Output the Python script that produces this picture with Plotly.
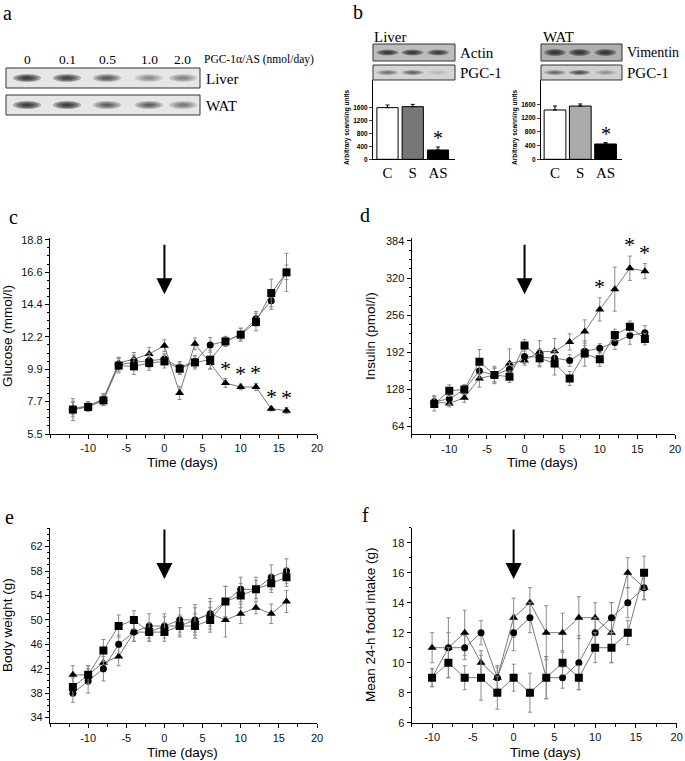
import plotly.graph_objects as go

W, H = 685, 761

# ---------------- data ----------------
days = [-12, -10, -8, -6, -4, -2, 0, 2, 4, 6, 8, 10, 12, 14, 16]
days_food = [-10, -8, -6, -4, -2, 0, 2, 4, 6, 8, 10, 12, 14, 16]
treatment_day = 0

# panel c: glucose (mmol/l)
glucose_ticktext = ["5.5", "7.7", "9.9", "12.2", "14.4", "16.6", "18.8"]
glucose_square = [7.17, 7.35, 7.8, 10.18, 10.13, 10.36, 10.47, 9.97, 10.4, 10.59, 11.84, 12.3, 13.17, 15.15, 16.57]
glucose_circle = [7.17, 7.4, 7.85, 10.25, 10.4, 10.54, 10.63, 10.06, 10.47, 11.6, 11.84, 12.34, 13.39, 14.63, 16.57]
glucose_triangle = [7.28, 7.4, 7.92, 10.36, 10.63, 10.98, 11.55, 8.31, 11.68, 10.36, 8.99, 8.72, 8.72, 7.23, 7.1]
glucose_square_err = [0.75, 0.3, 0.35, 0.5, 0.55, 0.5, 0.45, 0.4, 0.45, 0.65, 0.35, 0.45, 0.6, 0.95, 1.3]
glucose_circle_err = [0.5, 0.3, 0.4, 0.45, 0.5, 0.5, 0.4, 0.4, 0.4, 0.5, 0.3, 0.4, 0.5, 0.6, 0.5]
glucose_triangle_err = [0.45, 0.3, 0.35, 0.4, 0.45, 0.45, 0.4, 0.45, 0.4, 0.4, 0.3, 0.2, 0.25, 0.15, 0.2]
glucose_sig_days = [8, 10, 12, 14, 16]

# panel d: insulin (pmol/l)
insulin_square = [103, 126, 128, 176, 153, 150, 204, 182, 173, 147, 190, 180, 222, 236, 215]
insulin_circle = [107, 112, 128, 160, 153, 163, 185, 183, 182, 178, 194, 199, 209, 221, 226]
insulin_triangle = [107, 104, 114, 147, 153, 173, 178, 193, 194, 210, 228, 266, 301, 337, 332]
insulin_square_err = [12, 10, 8, 21, 12, 10, 10, 15, 20, 12, 22, 12, 10, 10, 10]
insulin_circle_err = [10, 10, 8, 12, 15, 12, 12, 14, 15, 10, 10, 8, 12, 15, 12]
insulin_triangle_err = [10, 6, 8, 15, 12, 25, 8, 19, 22, 14, 20, 20, 38, 21, 13]
insulin_sig_days = [10, 14, 16]

# panel e: body weight (g)
weight_square = [39, 41, 45, 49, 50, 48, 48, 49, 49, 50, 53, 54, 55, 56, 57]
weight_circle = [38, 40, 42, 46, 48, 49, 49, 50, 50, 51, 53, 55, 55, 57, 58]
weight_triangle = [41, 41, 43, 44, 48, 48, 49, 49, 50, 51, 50, 51, 52, 51, 53]
weight_square_err = [1.5, 1.5, 1.8, 1.8, 1.5, 1.5, 1.5, 1.8, 2.0, 2.0, 2.5, 2.0, 1.5, 1.5, 1.5]
weight_circle_err = [1.5, 2.0, 2.0, 1.5, 1.5, 2.0, 2.0, 2.0, 2.5, 2.5, 2.5, 2.0, 2.0, 2.0, 2.0]
weight_triangle_err = [1.5, 1.5, 1.5, 1.5, 1.5, 1.5, 1.5, 1.5, 2.0, 2.0, 2.8, 1.6, 1.0, 1.6, 1.8]

# panel f: mean 24-h food intake (g)
food_square = [9, 10, 9, 9, 8, 9, 8, 9, 10, 9, 11, 11, 12, 16]
food_circle = [9, 11, 11, 12, 9, 12, 13, 9, 9, 10, 12, 13, 14, 15]
food_triangle = [11, 11, 12, 10, 9, 13, 14, 12, 12, 13, 13, 12, 16, 15]
food_square_err = [0.6, 1.0, 0.8, 1.5, 1.1, 0.9, 1.3, 1.4, 0.8, 0.8, 1.0, 1.0, 0.8, 1.1]
food_circle_err = [0.6, 1.0, 0.8, 0.8, 0.7, 1.2, 1.0, 1.4, 0.7, 1.8, 1.0, 1.0, 1.0, 0.8]
food_triangle_err = [1.0, 2.0, 1.5, 0.8, 0.8, 1.3, 1.0, 1.8, 1.3, 1.4, 1.0, 2.0, 1.0, 0.8]

# panel a: western blot, PGC-1alpha/AS dose
dose_labels = ["0", "0.1", "0.5", "1.0", "2.0"]
blot_a_liver = [0.9, 0.85, 0.65, 0.35, 0.4]
blot_a_wat = [0.9, 0.9, 0.6, 0.6, 0.45]

# panel b: scanning units
groups = ["C", "S", "AS"]
liver_units = [1590, 1620, 287]
liver_units_err = [80, 70, 90]
wat_units = [1435, 1550, 446]
wat_units_err = [116, 60, 40]
blot_b_actin = [0.9, 0.9, 0.85]
blot_b_liver_pgc = [0.45, 0.55, 0.1]
blot_b_vimentin = [0.95, 0.95, 0.9]
blot_b_wat_pgc = [0.5, 0.7, 0.25]

# ---------------- helpers ----------------
SERIF = "Liberation Serif"
SANS = "Liberation Sans"


def fx(x):
    return x / W


def fy(y):
    return 1 - y / H


fig = go.Figure()
shapes = []
annotations = []


def text_px(x, y, s, size, family=SERIF, xanchor="left", yanchor="middle", angle=0, weight="normal"):
    annotations.append(dict(x=fx(x), y=fy(y), xref="paper", yref="paper", text=s, showarrow=False,
                            xanchor=xanchor, yanchor=yanchor, textangle=angle, borderpad=0,
                            font=dict(family=family, size=size, color="black", weight=weight)))


def blot_box(x0, y0, x1, y1, bg, centers, intens, bw, bh):
    shapes.append(dict(type="rect", xref="paper", yref="paper", x0=fx(x0), x1=fx(x1), y0=fy(y1), y1=fy(y0),
                       fillcolor=bg, line=dict(color="#333", width=1), layer="above"))
    cy = (y0 + y1) / 2
    for cx, v in zip(centers, intens):
        for k in range(4):
            s = 1 - 0.22 * k
            shapes.append(dict(type="circle", xref="paper", yref="paper",
                               x0=fx(cx - bw * s / 2), x1=fx(cx + bw * s / 2),
                               y0=fy(cy + bh * s / 2), y1=fy(cy - bh * s / 2),
                               fillcolor="rgba(25,25,25,%.3f)" % (v * 0.36), line=dict(width=0), layer="above"))


# ---------------- main line panels ----------------
LINE = dict(color="#6a6a6a", width=0.9)
ERR = dict(color="#8a8a8a", thickness=1, width=2)


def add_series(xs, ys, errs, symbol, size, xa, ya):
    fig.add_trace(go.Scatter(x=xs, y=ys, mode="lines+markers", xaxis=xa, yaxis=ya,
                             line=LINE, marker=dict(symbol=symbol, size=size, color="black"),
                             error_y=dict(type="data", array=errs, **ERR), showlegend=False,
                             hoverinfo="skip"))


panels = [
    ("x", "y", days, glucose_square, glucose_circle, glucose_triangle,
     glucose_square_err, glucose_circle_err, glucose_triangle_err),
    ("x2", "y2", days, insulin_square, insulin_circle, insulin_triangle,
     insulin_square_err, insulin_circle_err, insulin_triangle_err),
    ("x3", "y3", days, weight_square, weight_circle, weight_triangle,
     weight_square_err, weight_circle_err, weight_triangle_err),
    ("x4", "y4", days_food, food_square, food_circle, food_triangle,
     food_square_err, food_circle_err, food_triangle_err),
]
for xa, ya, xs, sq, ci, tr, esq, eci, etr in panels:
    add_series(xs, tr, etr, "triangle-up", 8, xa, ya)
    add_series(xs, ci, eci, "circle", 7, xa, ya)
    add_series(xs, sq, esq, "square", 8, xa, ya)

# significance asterisks
for d in glucose_sig_days:
    i = days.index(d)
    annotations.append(dict(x=d, y=glucose_triangle[i] + glucose_triangle_err[i], xref="x", yref="y",
                            text="*", showarrow=False, yanchor="bottom", yshift=-4,
                            font=dict(family=SERIF, size=22, color="black")))
for d in insulin_sig_days:
    i = days.index(d)
    annotations.append(dict(x=d, y=insulin_triangle[i] + insulin_triangle_err[i], xref="x2", yref="y2",
                            text="*", showarrow=False, yanchor="bottom", yshift=-3,
                            font=dict(family=SERIF, size=22, color="black")))

# treatment arrows
for xa, ya, tip in [("x", "y", 0.714), ("x2", "y2", 0.714), ("x3", "y3", 0.74), ("x4", "y4", 0.737)]:
    annotations.append(dict(x=treatment_day, y=tip, xref=xa, yref=ya + " domain", ax=0, ay=-51,
                            text="", showarrow=True, arrowhead=2, arrowsize=1.6, arrowwidth=2,
                            arrowcolor="black", standoff=0))

# ---------------- panel b bars ----------------
fig.add_trace(go.Bar(x=groups, y=liver_units, xaxis="x5", yaxis="y5", width=0.84,
                     marker=dict(color=["white", "#777777", "black"], line=dict(color="black", width=1)),
                     error_y=dict(type="data", array=liver_units_err, symmetric=False, arrayminus=[0, 0, 0],
                                  color="black", thickness=1, width=2),
                     showlegend=False, hoverinfo="skip"))
fig.add_trace(go.Bar(x=groups, y=wat_units, xaxis="x6", yaxis="y6", width=0.86,
                     marker=dict(color=["white", "#aaaaaa", "black"], line=dict(color="black", width=1)),
                     error_y=dict(type="data", array=wat_units_err, symmetric=False, arrayminus=[0, 0, 0],
                                  color="black", thickness=1, width=2),
                     showlegend=False, hoverinfo="skip"))
annotations.append(dict(x="AS", y=liver_units[2] + liver_units_err[2], xref="x5", yref="y5", text="*",
                        showarrow=False, yanchor="bottom", yshift=-4,
                        font=dict(family=SERIF, size=20, color="black")))
annotations.append(dict(x="AS", y=wat_units[2] + wat_units_err[2], xref="x6", yref="y6", text="*",
                        showarrow=False, yanchor="bottom", yshift=-4,
                        font=dict(family=SERIF, size=20, color="black")))

# ---------------- blots ----------------
lane_a = [27, 67, 107, 149, 183]
blot_box(6, 68, 200, 88, "#e6e6e6", lane_a, blot_a_liver, 28, 8)
blot_box(6, 95, 200, 115, "#e6e6e6", lane_a, blot_a_wat, 28, 8)
for cx, lab in zip(lane_a, dose_labels):
    text_px(cx, 59, lab, 13.5, xanchor="center")
text_px(203, 59, "PGC-1α/AS (nmol/day)", 11.5)
text_px(205, 79, "Liver", 15)
text_px(205, 106, "WAT", 15)

lane_bl = [387.5, 412.5, 438]
lane_bw = [555, 579.5, 605.5]
blot_box(373, 44, 455, 61, "#bdbdbd", lane_bl, blot_b_actin, 22, 6)
blot_box(373, 65, 455, 80, "#d4d4d4", lane_bl, blot_b_liver_pgc, 22, 5)
blot_box(541, 44, 622, 61, "#b0b0b0", lane_bw, blot_b_vimentin, 22, 7)
blot_box(541, 65, 622, 80, "#d0d0d0", lane_bw, blot_b_wat_pgc, 22, 5)
text_px(373, 37, "Liver", 15)
text_px(542, 37, "WAT", 15)
text_px(459, 53, "Actin", 15)
text_px(459, 73, "PGC-1", 15)
text_px(626, 53, "Vimentin", 14)
text_px(626, 73, "PGC-1", 15)
text_px(347, 127, "Arbitrary scanning units", 6.5, family=SANS, xanchor="center", angle=-90, weight="bold")
text_px(515, 127, "Arbitrary scanning units", 6.5, family=SANS, xanchor="center", angle=-90, weight="bold")

# panel letters
for lab, x, y in [("a", 8, 13), ("b", 358, 12), ("c", 13, 217), ("d", 365, 215), ("e", 9, 517), ("f", 365, 515)]:
    text_px(x, y, lab, 20, xanchor="center")

# axis titles
for x, y in [(183, 462), (542, 462), (183, 752), (545, 752)]:
    text_px(x, y, "Time (days)", 13.5, family=SANS, xanchor="center")
text_px(7, 336, "Glucose (mmol/l)", 13.5, family=SANS, xanchor="center", angle=-90)
text_px(370, 336, "Insulin (pmol/l)", 13.5, family=SANS, xanchor="center", angle=-90)
text_px(7, 625, "Body weight (g)", 13.5, family=SANS, xanchor="center", angle=-90)
text_px(370, 625, "Mean 24-h food intake (g)", 13.5, family=SANS, xanchor="center", angle=-90)

# ---------------- axes ----------------
TICKF = dict(family=SANS, size=11, color="#111")


def xax(x0, x1, y_anchor, rng):
    return dict(domain=[fx(x0), fx(x1)], anchor=y_anchor, range=rng, showgrid=False, zeroline=False,
                showline=True, linecolor="black", linewidth=1.3, ticks="outside", ticklen=4,
                tickcolor="black", tickmode="array", tickvals=[-10, -5, 0, 5, 10, 15, 20],
                ticktext=["-10", "-5", "0", "5", "10", "15", "20"], tickfont=TICKF, automargin=False,
                minor=dict(tickmode="linear", tick0=-15, dtick=2.5, ticks="outside", ticklen=3,
                           tickcolor="black"))


def yax(top, bottom, x_anchor, rng, **kw):
    d = dict(domain=[fy(bottom), fy(top)], anchor=x_anchor, range=rng, showgrid=False, zeroline=False,
             showline=True, linecolor="black", linewidth=1.3, ticks="outside", ticklen=4,
             tickcolor="black", tickfont=TICKF, automargin=False)
    d.update(kw)
    return d


g_step = (18.8 - 5.5) / 6
layout = dict(
    width=W, height=H, margin=dict(l=0, r=0, t=0, b=0, autoexpand=False), autosize=False,
    paper_bgcolor="white", plot_bgcolor="rgba(0,0,0,0)",
    xaxis=xax(50, 317, "y", [-15, 20]),
    yaxis=yax(238.3, 434, "x", [5.5, 18.9], tickmode="array",
              tickvals=[5.5 + i * g_step for i in range(7)], ticktext=glucose_ticktext,
              minor=dict(tickmode="linear", tick0=5.5, dtick=g_step / 4, ticks="outside", ticklen=2,
                         tickcolor="black")),
    xaxis2=xax(411.7, 675, "y2", [-15, 20]),
    yaxis2=yax(238.3, 434.3, "x2", [50.8, 388.6], tickmode="linear", tick0=64, dtick=64,
               minor=dict(tickmode="linear", tick0=64, dtick=16, ticks="outside", ticklen=2,
                          tickcolor="black")),
    xaxis3=xax(50, 317, "y3", [-15, 20]),
    yaxis3=yax(528.3, 723.3, "x3", [33.07, 65], tickmode="linear", tick0=34, dtick=4,
               minor=dict(tickmode="linear", tick0=34, dtick=1, ticks="outside", ticklen=2,
                          tickcolor="black")),
    xaxis4=xax(411.7, 676.7, "y4", [-12.5, 20]),
    yaxis4=yax(527.7, 722.7, "x4", [6, 19], tickmode="linear", tick0=6, dtick=2,
               minor=dict(tickmode="linear", tick0=6, dtick=1, ticks="outside", ticklen=2,
                          tickcolor="black")),
    xaxis5=dict(domain=[fx(373), fx(455)], anchor="y5", type="category", range=[-0.574, 2.673],
                showgrid=False, zeroline=False, showline=True, linecolor="black", linewidth=1,
                ticks="", tickfont=dict(family=SERIF, size=15, color="black"), automargin=False),
    yaxis5=dict(domain=[fy(159.3), fy(80)], anchor="x5", range=[0, 2440], showgrid=False, zeroline=False,
                showline=True, linecolor="black", linewidth=1, ticks="outside", ticklen=3,
                tickvals=[0, 400, 800, 1200, 1600], automargin=False,
                tickfont=dict(family=SANS, size=6.5, color="black", weight="bold")),
    xaxis6=dict(domain=[fx(541), fx(622)], anchor="y6", type="category", range=[-0.554, 2.65],
                showgrid=False, zeroline=False, showline=True, linecolor="black", linewidth=1,
                ticks="", tickfont=dict(family=SERIF, size=15, color="black"), automargin=False),
    yaxis6=dict(domain=[fy(159.3), fy(80)], anchor="x6", range=[0, 2307], showgrid=False, zeroline=False,
                showline=True, linecolor="black", linewidth=1, ticks="outside", ticklen=3,
                tickvals=[0, 400, 800, 1200, 1600], automargin=False,
                tickfont=dict(family=SANS, size=6.5, color="black", weight="bold")),
    shapes=shapes,
    annotations=annotations,
)
fig.update_layout(**layout)
fig.write_html("out.html", config={"displayModeBar": False},
               post_script="document.body.style.margin='0';")
